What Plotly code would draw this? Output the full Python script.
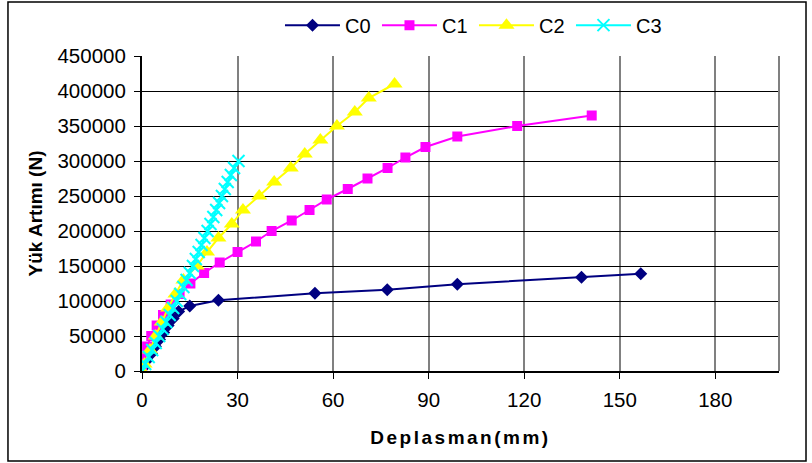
import plotly.graph_objects as go

# Load-displacement data for the four specimens
c0_disp = [0.5, 1.5, 3.0, 4.2, 5.5, 6.8, 8.2, 9.8, 11.5, 15.0, 24.0, 54.3, 77.0, 99.0, 138.0, 156.6]
c0_load = [5000, 15000, 25000, 35000, 45000, 55000, 65000, 75000, 85000, 93000, 101000,
           111000, 116000, 124000, 134000, 139000]

c1_disp = [0.0, 0.6, 1.6, 2.9, 4.6, 6.6, 9.0, 11.8, 15.2, 19.5, 24.4, 30.0, 35.8, 40.7, 47.0,
           52.6, 58.0, 64.6, 70.8, 77.1, 82.7, 89.0, 99.0, 117.8, 141.2]
c1_load = [5000, 20000, 35000, 50000, 65000, 80000, 95000, 110000, 125000, 140000, 155000,
           170000, 185000, 200000, 215000, 230000, 245000, 260000, 275000, 290000, 305000,
           320000, 335000, 350000, 365000]

c2_disp = [0.0, 0.8, 2.5, 4.3, 6.2, 8.2, 10.5, 13.0, 17.2, 20.4, 24.0, 28.2, 31.7, 36.8, 41.5,
           46.7, 51.1, 56.0, 61.2, 66.8, 71.2, 79.3]
c2_load = [0, 10000, 30000, 50000, 70000, 90000, 110000, 130000, 150000, 170000, 190000,
           210000, 230000, 250000, 270000, 290000, 310000, 330000, 350000, 370000, 390000,
           410000]

c3_disp = [0.0, 1.0, 2.1, 3.2, 4.3, 5.4, 6.5, 7.6, 8.7, 9.8, 10.9, 12.0, 13.0, 14.0, 15.0,
           16.0, 16.9, 17.8, 18.7, 19.6, 20.6, 21.5, 22.4, 23.3, 24.2, 25.1, 26.0, 26.9, 27.9,
           28.9, 30.3]
c3_load = [0, 10000, 20000, 30000, 40000, 50000, 60000, 70000, 80000, 90000, 100000, 110000,
           120000, 130000, 140000, 150000, 160000, 170000, 180000, 190000, 200000, 210000,
           220000, 230000, 240000, 250000, 260000, 270000, 280000, 290000, 300000]

x_ticks = [0, 30, 60, 90, 120, 150, 180]
y_ticks = [0, 50000, 100000, 150000, 200000, 250000, 300000, 350000, 400000, 450000]

FONT = "Liberation Sans, Arial, sans-serif"

fig = go.Figure()

fig.add_trace(go.Scatter(
    x=c0_disp, y=c0_load, name="C0", mode="lines+markers",
    line=dict(color="#000080", width=2),
    marker=dict(symbol="diamond", size=10, color="#000080"),
))
fig.add_trace(go.Scatter(
    x=c1_disp, y=c1_load, name="C1", mode="lines+markers",
    line=dict(color="#FF00FF", width=2),
    marker=dict(symbol="square", size=10, color="#FF00FF"),
))
fig.add_trace(go.Scatter(
    x=c2_disp, y=c2_load, name="C2", mode="lines+markers",
    line=dict(color="#FFFF00", width=2),
    marker=dict(symbol="triangle-up", size=14, color="#FFFF00"),
))
fig.add_trace(go.Scatter(
    x=c3_disp, y=c3_load, name="C3", mode="lines+markers",
    line=dict(color="#00FFFF", width=2),
    marker=dict(symbol="x-thin", size=12, color="#00FFFF",
                line=dict(color="#00FFFF", width=2)),
))

fig.update_layout(
    width=812, height=463,
    margin=dict(l=142, r=33, t=56, b=92, autoexpand=False),
    paper_bgcolor="white", plot_bgcolor="white",
    font=dict(family=FONT, size=20, color="black"),
    showlegend=True,
    legend=dict(
        orientation="h", x=0.2166, y=1.098, xanchor="left", yanchor="middle",
        font=dict(family=FONT, size=20, color="black"),
        itemwidth=55, entrywidth=27, entrywidthmode="pixels",
        bgcolor="rgba(0,0,0,0)", traceorder="normal",
    ),
    xaxis=dict(
        range=[0, 200], tickvals=x_ticks, ticktext=[str(v) for v in x_ticks],
        showgrid=True, gridcolor="#808080", gridwidth=2,
        zeroline=False, showline=True, linecolor="black", linewidth=1.5,
        ticks="outside", ticklen=6, tickcolor="black", tickwidth=1,
        ticklabelstandoff=4,
        tickfont=dict(family=FONT, size=20.5, color="black"),
        title=dict(text='<span style="letter-spacing:2.5px">Deplasman(mm)</span>',
                   font=dict(family=FONT, size=19, color="black", weight="bold"),
                   standoff=20),
        fixedrange=True,
    ),
    yaxis=dict(
        range=[0, 450000], tickvals=y_ticks, ticktext=[str(v) for v in y_ticks],
        showgrid=True, gridcolor="black", gridwidth=1,
        zeroline=False, showline=True, linecolor="black", linewidth=2,
        ticks="outside", ticklen=6, tickcolor="black", tickwidth=1,
        ticklabelstandoff=4,
        tickfont=dict(family=FONT, size=20.5, color="black"),
        title=dict(text="Yük Artımı (N)",
                   font=dict(family=FONT, size=19, color="black", weight="bold"),
                   standoff=10),
        fixedrange=True,
    ),
    shapes=[
        # right edge of the plot area
        dict(type="line", xref="paper", yref="paper", x0=1, x1=1, y0=0, y1=1,
             line=dict(color="#808080", width=2)),
        # frame around the whole chart
        dict(type="rect", xref="paper", yref="paper",
             x0=-0.2104, x1=1.0424, y0=-0.2857, y1=1.1714,
             line=dict(color="black", width=1.5), fillcolor="rgba(0,0,0,0)"),
    ],
)

fig.write_html("out.html")
